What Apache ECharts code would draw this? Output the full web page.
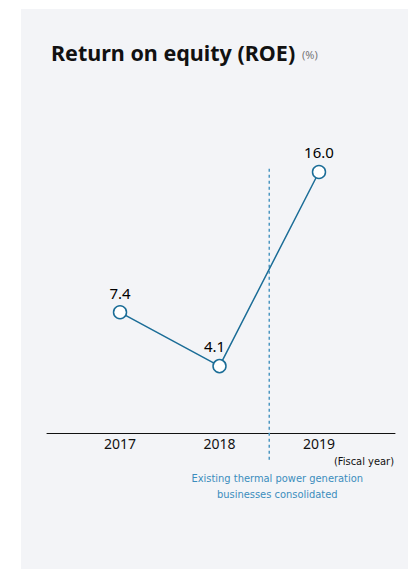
<!DOCTYPE html>
<html><head><meta charset="utf-8">
<script src="https://cdn.jsdelivr.net/npm/echarts@6/dist/echarts.min.js"></script>
<style>html,body{margin:0;padding:0;background:#fff;}#c{width:412px;height:569px;}</style>
</head><body><div id="c"></div>
<script>
const years = [2017, 2018, 2019];
const yearLabels = ['2017', '2018', '2019'];
const roe = [7.4, 4.1, 16.0];
const roeLabels = ['7.4', '4.1', '16.0'];
const consolidationAt = 2018.5;
const dividerRange = [16.2, -1.8];
const noteText = 'Existing thermal power generation\nbusinesses consolidated';

const chart = echarts.init(document.getElementById('c'), null, {renderer: 'svg'});
const lineColor = '#1b6d97';
const noteColor = '#3b8dbd';
const narrow = '"Liberation Sans Narrow", "DejaVu Sans Condensed", Roboto, sans-serif';
chart.setOption({
  backgroundColor: '#ffffff',
  animation: false,
  graphic: [
    {type: 'rect', z: -10, silent: true, shape: {x: 21, y: 9, width: 387, height: 560}, style: {fill: '#f3f4f7'}},
    {type: 'text', x: 51, y: 52, style: {text: 'Return on equity (ROE)', fontSize: 21.5, fontWeight: 'bold', fontFamily: 'Noto Sans', fill: '#111', verticalAlign: 'middle'}},
    {type: 'text', x: 302, y: 54, style: {text: '(%)', fontSize: 11, fontFamily: 'Noto Sans', fill: '#777', verticalAlign: 'middle'}},
    {type: 'text', x: 394, y: 461, style: {text: '(Fiscal year)', fontSize: 11, fontFamily: narrow, fill: '#111', align: 'right', verticalAlign: 'middle'}}
  ],
  grid: {left: 47, right: 17, top: 139.4, bottom: 136},
  xAxis: {
    type: 'value', min: 2016.266, max: 2019.764,
    axisLine: {show: true, onZero: false, lineStyle: {color: '#111', width: 1}},
    axisTick: {show: false},
    splitLine: {show: false},
    axisLabel: {
      customValues: years,
      formatter: v => yearLabels[years.indexOf(Math.round(v))] || '',
      color: '#111', fontSize: 14, fontFamily: 'Noto Sans', fontWeight: 'normal', margin: 3
    }
  },
  yAxis: {type: 'value', min: 0, max: 18, show: false},
  series: [{
    type: 'line',
    data: years.map((y, i) => [y, roe[i]]),
    symbol: 'circle', symbolSize: 13,
    itemStyle: {color: '#ffffff', borderColor: lineColor, borderWidth: 1.5},
    lineStyle: {color: lineColor, width: 1.5},
    label: {
      show: true, position: 'top', distance: 5,
      formatter: p => roeLabels[p.dataIndex],
      color: '#000', fontSize: 15, fontFamily: 'Noto Sans', fontWeight: 'normal'
    },
    labelLayout: p => p.dataIndex === 1 ? {dx: -5} : {},
    z: 5
  }, {
    type: 'line',
    data: dividerRange.map(v => [consolidationAt, v]),
    clip: false, silent: true,
    symbol: 'none', showSymbol: false,
    lineStyle: {color: '#4f98c2', type: [3, 3], width: 1.5},
    endLabel: {
      show: true, formatter: noteText, color: noteColor, fontSize: 11,
      fontFamily: narrow, lineHeight: 16, align: 'center',
      verticalAlign: 'top', offset: [0, 8]
    },
    z: 3
  }]
});
</script></body></html>
